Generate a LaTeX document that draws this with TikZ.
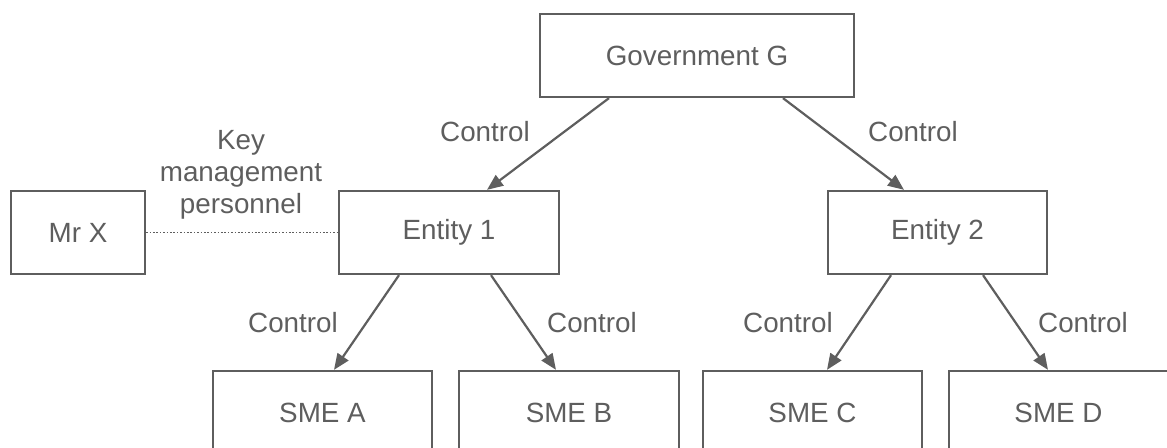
\documentclass[tikz,border=0pt]{standalone}
\usepackage{fontspec}
\setmainfont{Liberation Sans}
\usetikzlibrary{arrows.meta}
\definecolor{ink}{RGB}{94,94,94}
\begin{document}
\begin{tikzpicture}[x=1pt,y=-1pt,
  font=\fontsize{27.8}{32}\selectfont, text=ink,
  box/.style={draw=ink, line width=2.3pt, fill=white, inner sep=0pt,
    minimum height=83pt},
  ctrl/.style={draw=ink, line width=2.2pt,
    -{Triangle[length=16pt,width=13pt]}},
  lbl/.style={inner sep=0pt, align=center}]
\useasboundingbox (0,0) rectangle (1167,447);
\clip (0,0) rectangle (1167,447);

% entities
\node[box, minimum width=314pt] (gov) at (697,55.5) {Government G};
\node[box, minimum width=134pt] (mrx) at (78,232.5) {Mr X};
\node[box, minimum width=220pt] (e1) at (449,232.5) {Entity 1};
\node[box, minimum width=219pt] (e2) at (937.5,232.5) {Entity 2};
\node[box, minimum width=219pt, minimum height=84pt] (smea) at (322.5,413) {SME A};
\node[box, minimum width=220pt, minimum height=84pt] (smeb) at (569,413) {SME B};
\node[box, minimum width=219pt, minimum height=84pt] (smec) at (812.5,413) {SME C};
\node[box, minimum width=219pt, minimum height=84pt] (smed) at (1058.5,413) {SME D};

% control relations
\draw[ctrl] ([xshift=-88pt]gov.south) -- ([xshift=38pt]e1.north);
\draw[ctrl] ([xshift=86pt]gov.south) -- ([xshift=-33.5pt]e2.north);
\draw[ctrl] ([xshift=-50pt]e1.south) -- ([xshift=11.5pt]smea.north);
\draw[ctrl] ([xshift=42pt]e1.south) -- ([xshift=-13pt]smeb.north);
\draw[ctrl] ([xshift=-46.5pt]e2.south) -- ([xshift=14.5pt]smec.north);
\draw[ctrl] ([xshift=45.5pt]e2.south) -- ([xshift=-10.5pt]smed.north);

% key management personnel link
\draw[ink, line width=1.7pt, dash pattern=on 1.7pt off 1.7pt] (mrx.east) -- (e1.west);

% labels
\node[lbl] (c1) at (485,132) {Control};
\node[lbl] (c2) at (913,132) {Control};
\node[lbl] (c3) at (293,323) {Control};
\node[lbl] (c4) at (592,323) {Control};
\node[lbl] (c5) at (788,323) {Control};
\node[lbl] (c6) at (1083,323) {Control};
\node[lbl] (kmp) at (241,175) {Key\\management\\personnel};
\end{tikzpicture}
\end{document}
